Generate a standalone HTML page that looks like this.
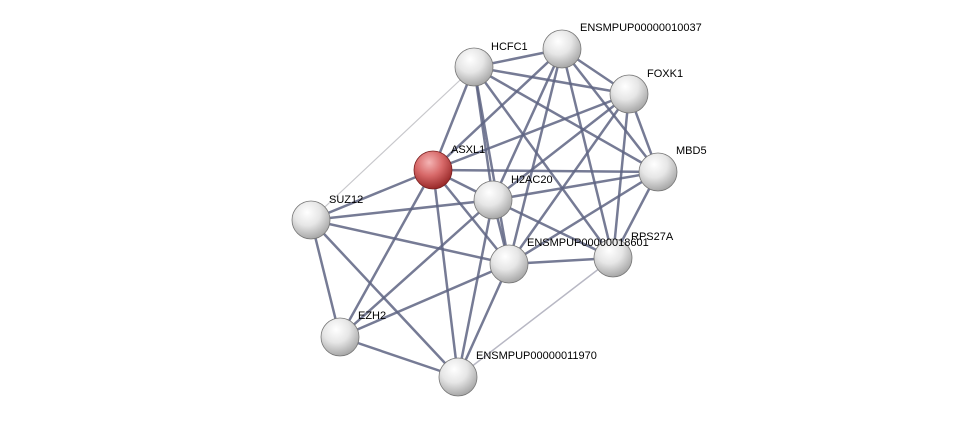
<!DOCTYPE html>
<html><head><meta charset="utf-8"><style>
html,body{margin:0;padding:0;background:#fff;}
svg{display:block;}
text{font-family:"Liberation Sans",sans-serif;font-size:11px;fill:#000;}
</style></head><body>
<svg width="975" height="422" viewBox="0 0 975 422" xmlns="http://www.w3.org/2000/svg">
<defs>
<radialGradient id="g" cx="0.4" cy="0.3" r="0.7">
<stop offset="0" stop-color="#ffffff"/><stop offset="0.5" stop-color="#e6e6e6"/><stop offset="1" stop-color="#a8a8a8"/>
</radialGradient>
<radialGradient id="r" cx="0.4" cy="0.3" r="0.7">
<stop offset="0" stop-color="#f4b4b4"/><stop offset="0.5" stop-color="#d86a6a"/><stop offset="1" stop-color="#9a2a2a"/>
</radialGradient>
</defs>
<g stroke-linecap="round">
<line x1="311" y1="220" x2="474" y2="67" stroke="#c8c8cc" stroke-width="1.2"/>
<line x1="613" y1="258" x2="458" y2="377" stroke="#b8b8c4" stroke-width="1.5"/>
<g stroke="#5e6482" stroke-opacity="0.85" stroke-width="2.5">
<line x1="474" y1="67" x2="562" y2="49"/>
<line x1="474" y1="67" x2="629" y2="94"/>
<line x1="474" y1="67" x2="433" y2="170"/>
<line x1="474" y1="67" x2="493" y2="200"/>
<line x1="474" y1="67" x2="509" y2="264"/>
<line x1="474" y1="67" x2="658" y2="172"/>
<line x1="474" y1="67" x2="613" y2="258"/>
<line x1="562" y1="49" x2="629" y2="94"/>
<line x1="562" y1="49" x2="658" y2="172"/>
<line x1="562" y1="49" x2="613" y2="258"/>
<line x1="562" y1="49" x2="493" y2="200"/>
<line x1="562" y1="49" x2="509" y2="264"/>
<line x1="562" y1="49" x2="433" y2="170"/>
<line x1="629" y1="94" x2="493" y2="200"/>
<line x1="629" y1="94" x2="509" y2="264"/>
<line x1="629" y1="94" x2="613" y2="258"/>
<line x1="629" y1="94" x2="433" y2="170"/>
<line x1="629" y1="94" x2="658" y2="172"/>
<line x1="658" y1="172" x2="433" y2="170"/>
<line x1="658" y1="172" x2="493" y2="200"/>
<line x1="658" y1="172" x2="509" y2="264"/>
<line x1="658" y1="172" x2="613" y2="258"/>
<line x1="433" y1="170" x2="493" y2="200"/>
<line x1="433" y1="170" x2="509" y2="264"/>
<line x1="433" y1="170" x2="311" y2="220"/>
<line x1="433" y1="170" x2="340" y2="337"/>
<line x1="433" y1="170" x2="458" y2="377"/>
<line x1="493" y1="200" x2="311" y2="220"/>
<line x1="493" y1="200" x2="509" y2="264"/>
<line x1="493" y1="200" x2="613" y2="258"/>
<line x1="493" y1="200" x2="340" y2="337"/>
<line x1="493" y1="200" x2="458" y2="377"/>
<line x1="311" y1="220" x2="509" y2="264"/>
<line x1="311" y1="220" x2="340" y2="337"/>
<line x1="311" y1="220" x2="458" y2="377"/>
<line x1="509" y1="264" x2="340" y2="337"/>
<line x1="509" y1="264" x2="458" y2="377"/>
<line x1="509" y1="264" x2="613" y2="258"/>
<line x1="340" y1="337" x2="458" y2="377"/>
</g>
</g>
<g stroke="#777" stroke-width="0.8">
<circle cx="474" cy="67" r="19" fill="url(#g)"/>
<circle cx="562" cy="49" r="19" fill="url(#g)"/>
<circle cx="629" cy="94" r="19" fill="url(#g)"/>
<circle cx="658" cy="172" r="19" fill="url(#g)"/>
<circle cx="433" cy="170" r="19" fill="url(#r)" stroke="#7a2020"/>
<circle cx="493" cy="200" r="19" fill="url(#g)"/>
<circle cx="311" cy="220" r="19" fill="url(#g)"/>
<circle cx="613" cy="258" r="19" fill="url(#g)"/>
<circle cx="509" cy="264" r="19" fill="url(#g)"/>
<circle cx="340" cy="337" r="19" fill="url(#g)"/>
<circle cx="458" cy="377" r="19" fill="url(#g)"/>
</g>
<text x="491" y="50">HCFC1</text>
<text x="580" y="31">ENSMPUP00000010037</text>
<text x="647" y="77">FOXK1</text>
<text x="676" y="154">MBD5</text>
<text x="451" y="153">ASXL1</text>
<text x="511" y="183">H2AC20</text>
<text x="329" y="203">SUZ12</text>
<text x="527" y="246">ENSMPUP00000018601</text>
<text x="631" y="240">RPS27A</text>
<text x="358" y="319">EZH2</text>
<text x="476" y="359">ENSMPUP00000011970</text>
</svg>
</body></html>
